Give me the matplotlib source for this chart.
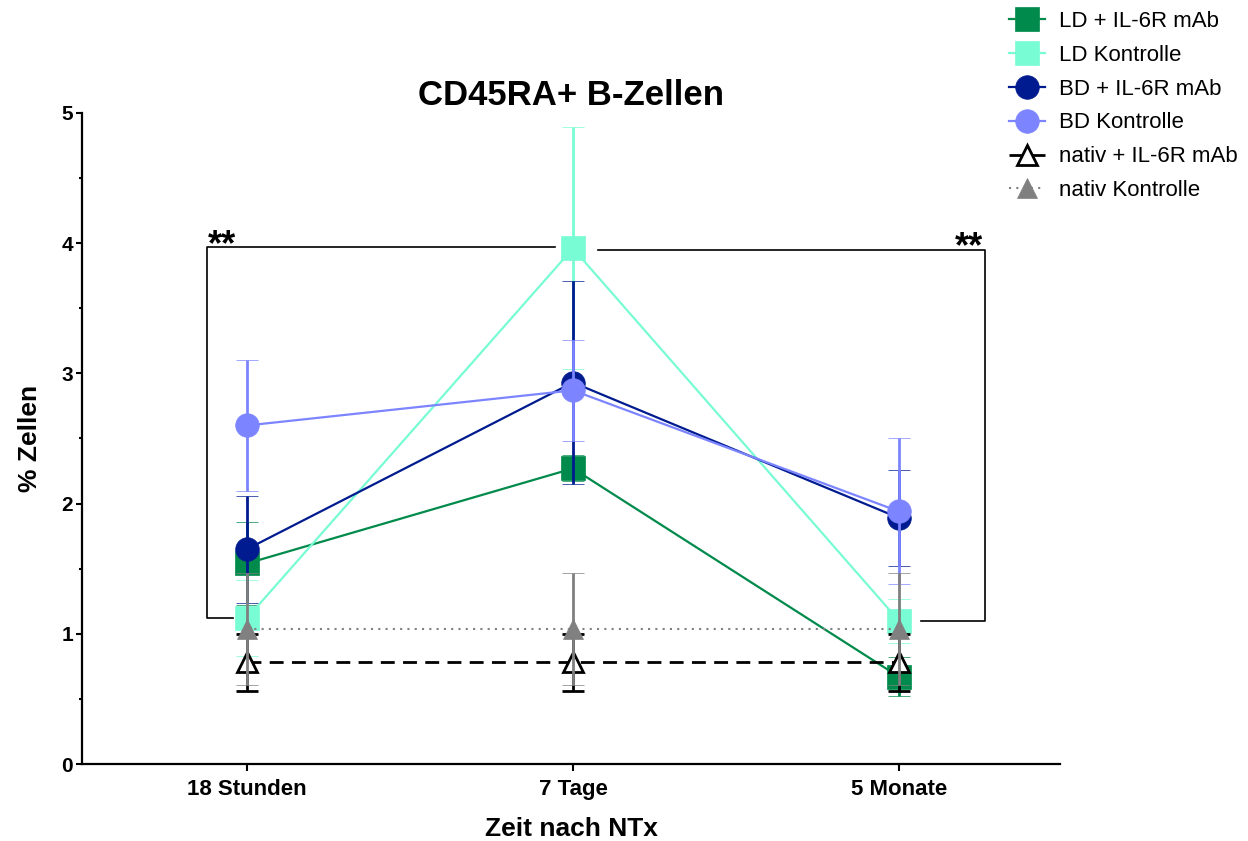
import matplotlib
matplotlib.use("Agg")
import matplotlib.pyplot as plt
from matplotlib.lines import Line2D
from matplotlib.ticker import MultipleLocator

plt.rcParams['font.family'] = ['Liberation Sans', 'DejaVu Sans']

# time points after transplantation
timepoints = ["18 Stunden", "7 Tage", "5 Monate"]
xpos = [0, 1, 2]

# mean % cells and SEM per group
ld_il6r = [1.54, 2.27, 0.67]
ld_il6r_err = [0.32, 0.10, 0.15]
ld_ctrl = [1.12, 3.96, 1.10]
ld_ctrl_err = [0.29, 0.93, 0.17]
bd_il6r = [1.65, 2.93, 1.89]
bd_il6r_err = [0.41, 0.78, 0.37]
bd_ctrl = [2.60, 2.87, 1.94]
bd_ctrl_err = [0.50, 0.39, 0.56]
nativ_il6r = [0.78, 0.78, 0.78]
nativ_il6r_err = [0.22, 0.22, 0.22]
nativ_ctrl = [1.04, 1.04, 1.04]
nativ_ctrl_err = [0.43, 0.43, 0.43]

GREEN = "#008a4b"
MINT = "#78fcd4"
NAVY = "#001b8f"
PERI = "#7c85ff"
GREY = "#808080"

series = [
    ("LD + IL-6R mAb", ld_il6r, ld_il6r_err, GREEN, "s", GREEN, "-"),
    ("LD Kontrolle", ld_ctrl, ld_ctrl_err, MINT, "s", MINT, "-"),
    ("BD + IL-6R mAb", bd_il6r, bd_il6r_err, NAVY, "o", NAVY, "-"),
    ("BD Kontrolle", bd_ctrl, bd_ctrl_err, PERI, "o", PERI, "-"),
    ("nativ + IL-6R mAb", nativ_il6r, nativ_il6r_err, "black", "^", "white", (0, (5, 3))),
    ("nativ Kontrolle", nativ_ctrl, nativ_ctrl_err, GREY, "^", GREY, (0, (1, 2.5))),
]

fig = plt.figure(figsize=(12.48, 8.41), dpi=100)
ax = fig.add_axes([82 / 1248, 1 - 764 / 841, (1060 - 82) / 1248, (764 - 113) / 841])

handles = []
for i, (label, mean, err, col, mk, face, ls) in enumerate(series):
    msize = 17 if mk != "^" else 14
    lw = 1.6 if ls == "-" else 2.0
    if label == "nativ Kontrolle":
        lw = 1.5
    ax.errorbar(xpos, mean, yerr=err, color=col, marker=mk, markersize=msize,
                markerfacecolor=face, markeredgecolor=col,
                markeredgewidth=2 if face == "white" else 0.5,
                linestyle=ls, linewidth=lw, elinewidth=2, capsize=8, capthick=2.4,
                zorder=3 + i, clip_on=False)
    handles.append(Line2D([], [], color=col, marker=mk, markersize=msize,
                          markerfacecolor=face, markeredgecolor=col,
                          markeredgewidth=2 if face == "white" else 0.5,
                          linestyle=ls, linewidth=lw, label=label))

# significance brackets
bk = dict(color="black", linewidth=1.2, clip_on=False, zorder=2)
ax.plot([-0.043, -0.123, -0.123, 0.945], [1.12, 1.12, 3.97, 3.97], **bk)
ax.plot([1.077, 2.264, 2.264, 2.067], [3.95, 3.95, 1.10, 1.10], **bk)
ax.text(-0.12, 3.845, "**", fontsize=26, fontweight="bold", ha="left", va="bottom")
ax.text(2.258, 3.835, "**", fontsize=26, fontweight="bold", ha="right", va="bottom")

ax.set_xlim(-0.506, 2.494)
ax.set_ylim(0, 5)
ax.set_xticks(xpos)
ax.set_xticklabels(timepoints, fontsize=16, fontweight="bold")
ax.yaxis.set_major_locator(MultipleLocator(1))
ax.yaxis.set_minor_locator(MultipleLocator(0.5))
for lab in ax.get_yticklabels():
    lab.set_fontsize(15)
    lab.set_fontweight("bold")
ax.tick_params(axis="y", which="major", direction="out", length=4.5, width=1.5, pad=2)
ax.tick_params(axis="y", which="minor", direction="out", length=2.5, width=1.5)
ax.tick_params(axis="x", which="major", direction="out", length=5, width=1.5, pad=6)

for side in ("top", "right"):
    ax.spines[side].set_visible(False)
for side in ("left", "bottom"):
    ax.spines[side].set_linewidth(1.6)

ax.set_title("CD45RA+ B-Zellen", fontsize=25, fontweight="bold", pad=6)
ax.set_xlabel("Zeit nach NTx", fontsize=19, fontweight="bold", labelpad=12)
ax.set_ylabel("% Zellen", fontsize=19, fontweight="bold", labelpad=14)

fig.legend(handles=handles, loc="upper left", bbox_to_anchor=(996 / 1248, 1.003),
           frameon=False, fontsize=16, handlelength=1.6, handletextpad=0.65,
           labelspacing=0.58, borderaxespad=0.2)

fig.savefig("out.png", dpi=100)
